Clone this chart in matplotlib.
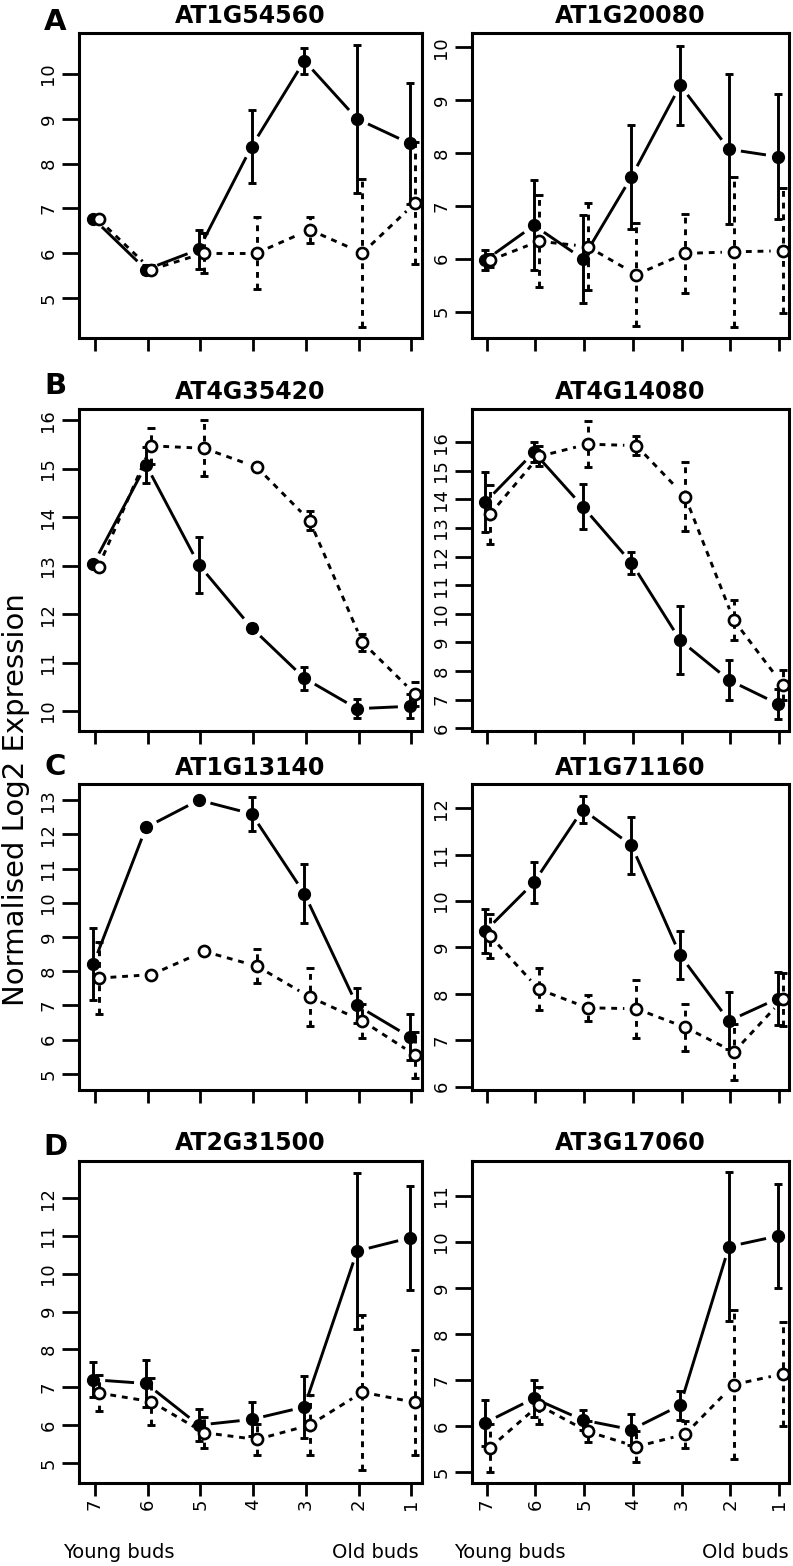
import numpy as np
import matplotlib
matplotlib.use('Agg')
import matplotlib.pyplot as plt

# bud stages, young -> old
stages = ['7', '6', '5', '4', '3', '2', '1']

# filled circles / solid lines, open circles / dotted lines (mean and +- error)
at1g54560_solid = [6.77, 5.63, 6.08, 8.38, 10.3, 9.0, 8.45]
at1g54560_solid_err = [0.05, 0.1, 0.44, 0.82, 0.29, 1.65, 1.35]
at1g54560_open = [6.75, 5.63, 6.0, 6.0, 6.52, 6.0, 7.12]
at1g54560_open_err = [0.05, 0.1, 0.44, 0.81, 0.29, 1.65, 1.37]

at1g20080_solid = [5.97, 6.63, 6.0, 7.55, 9.28, 8.07, 7.93]
at1g20080_solid_err = [0.19, 0.85, 0.83, 0.98, 0.75, 1.42, 1.18]
at1g20080_open = [5.97, 6.33, 6.23, 5.7, 6.1, 6.13, 6.15]
at1g20080_open_err = [0.12, 0.87, 0.83, 0.98, 0.75, 1.42, 1.18]

at4g35420_solid = [13.03, 15.08, 13.02, 11.72, 10.68, 10.05, 10.1]
at4g35420_solid_err = [0.03, 0.37, 0.58, 0.08, 0.24, 0.19, 0.25]
at4g35420_open = [12.98, 15.47, 15.42, 15.03, 13.93, 11.42, 10.35]
at4g35420_open_err = [0.03, 0.37, 0.58, 0.06, 0.19, 0.18, 0.25]

at4g14080_solid = [13.9, 15.65, 13.75, 11.78, 9.07, 7.68, 6.85]
at4g14080_solid_err = [1.05, 0.35, 0.8, 0.38, 1.19, 0.7, 0.53]
at4g14080_open = [13.48, 15.5, 15.93, 15.88, 14.1, 9.77, 7.52]
at4g14080_open_err = [1.03, 0.35, 0.8, 0.33, 1.2, 0.7, 0.53]

at1g13140_solid = [8.2, 12.2, 13.0, 12.6, 10.27, 7.0, 6.08]
at1g13140_solid_err = [1.05, 0.1, 0.03, 0.5, 0.85, 0.5, 0.68]
at1g13140_open = [7.8, 7.9, 8.58, 8.15, 7.25, 6.55, 5.55]
at1g13140_open_err = [1.05, 0.1, 0.05, 0.5, 0.85, 0.5, 0.68]

at1g71160_solid = [9.35, 10.4, 11.97, 11.2, 8.83, 7.42, 7.9]
at1g71160_solid_err = [0.47, 0.45, 0.3, 0.62, 0.52, 0.61, 0.57]
at1g71160_open = [9.25, 8.1, 7.7, 7.68, 7.28, 6.75, 7.88]
at1g71160_open_err = [0.47, 0.45, 0.28, 0.62, 0.51, 0.6, 0.57]

at2g31500_solid = [7.2, 7.1, 6.0, 6.15, 6.48, 10.6, 10.95]
at2g31500_solid_err = [0.46, 0.63, 0.42, 0.45, 0.82, 2.05, 1.38]
at2g31500_open = [6.85, 6.62, 5.8, 5.62, 6.0, 6.87, 6.6]
at2g31500_open_err = [0.47, 0.62, 0.41, 0.42, 0.8, 2.05, 1.38]

at3g17060_solid = [6.07, 6.6, 6.13, 5.92, 6.45, 9.9, 10.13]
at3g17060_solid_err = [0.5, 0.4, 0.22, 0.33, 0.32, 1.62, 1.13]
at3g17060_open = [5.53, 6.45, 5.88, 5.55, 5.82, 6.9, 7.13]
at3g17060_open_err = [0.52, 0.4, 0.22, 0.34, 0.29, 1.62, 1.13]

# gene, data, y range, y tick span
panels = [
    ('AT1G54560', at1g54560_solid, at1g54560_solid_err, at1g54560_open, at1g54560_open_err, (4.1, 10.92), (5, 10)),
    ('AT1G20080', at1g20080_solid, at1g20080_solid_err, at1g20080_open, at1g20080_open_err, (4.5, 10.27), (5, 10)),
    ('AT4G35420', at4g35420_solid, at4g35420_solid_err, at4g35420_open, at4g35420_open_err, (9.59, 16.23), (10, 16)),
    ('AT4G14080', at4g14080_solid, at4g14080_solid_err, at4g14080_open, at4g14080_open_err, (5.9, 17.16), (6, 16)),
    ('AT1G13140', at1g13140_solid, at1g13140_solid_err, at1g13140_open, at1g13140_open_err, (4.53, 13.47), (5, 13)),
    ('AT1G71160', at1g71160_solid, at1g71160_solid_err, at1g71160_open, at1g71160_open_err, (5.93, 12.52), (6, 12)),
    ('AT2G31500', at2g31500_solid, at2g31500_solid_err, at2g31500_open, at2g31500_open_err, (4.47, 12.98), (5, 12)),
    ('AT3G17060', at3g17060_solid, at3g17060_solid_err, at3g17060_open, at3g17060_open_err, (4.76, 11.76), (5, 11)),
]
letters = ['A', 'B', 'C', 'D']

W, H = 793, 1566
cols = [(79, 422), (472, 789)]
rows = [(33, 338), (409, 731), (784, 1090), (1161, 1483)]
title_base = [23, 399, 775, 1150]
letter_base = [30, 394, 775, 1155]

fig = plt.figure(figsize=(W / 100, H / 100), dpi=100)
DOT = (0, (2, 2))
GAP = 12  # pixels left open around each point, like R type="b"
LW = 2.1


def connect(ax, xs, ys, ls):
    # segments stop short of the points, computed in pixel space
    pts = ax.transData.transform(np.column_stack([xs, ys]))
    inv = ax.transData.inverted()
    for i in range(len(pts) - 1):
        p0, p1 = pts[i], pts[i + 1]
        d = p1 - p0
        L = np.hypot(*d)
        if L <= 2 * GAP:
            continue
        u = d / L
        a, b = inv.transform([p0 + u * GAP, p1 - u * GAP])
        ax.plot([a[0], b[0]], [a[1], b[1]], color='black', lw=LW, ls=ls,
                solid_capstyle='butt', dash_capstyle='butt')


x = np.arange(1, 8)
for k, (gene, sm, se, om, oe, ylim, yt) in enumerate(panels):
    r, c = divmod(k, 2)
    x0, x1 = cols[c]
    y0, y1 = rows[r]
    ax = fig.add_axes([x0 / W, 1 - y1 / H, (x1 - x0) / W, (y1 - y0) / H])
    ax.set_xlim(0.7, 7.2)
    ax.set_ylim(*ylim)

    xo = x + 0.07
    xf = x - 0.03

    eb = ax.errorbar(xo, om, yerr=oe, fmt='none', ecolor='black', elinewidth=LW,
                     capsize=3, capthick=LW)
    eb[2][0].set_linestyle(DOT)
    connect(ax, xo, om, DOT)
    ax.plot(xo, om, 'o', ms=8, mfc='white', mec='black', mew=1.9, ls='none', zorder=4)

    ax.errorbar(xf, sm, yerr=se, fmt='none', ecolor='black', elinewidth=LW,
                capsize=3, capthick=LW)
    connect(ax, xf, sm, '-')
    ax.plot(xf, sm, 'o', ms=8.5, color='black', ls='none', zorder=3)

    ax.set_xlim(0.7, 7.2)
    ax.set_ylim(*ylim)
    ax.set_xticks(x)
    ax.set_xticklabels(stages)
    ax.set_yticks(np.arange(yt[0], yt[1] + 1))
    for s in ax.spines.values():
        s.set_linewidth(2.2)
    ax.tick_params(axis='x', direction='out', length=9.5, width=2, pad=2,
                   labelsize=13, labelrotation=90, labelbottom=(r == 3))
    ax.tick_params(axis='y', direction='out', length=12.5, width=2, pad=3,
                   labelsize=13, labelrotation=90)
    for lab in ax.get_yticklabels():
        lab.set_va('center')

    fig.text((x0 + x1) / 2 / W, 1 - title_base[r] / H, gene, ha='center', va='baseline',
             fontsize=17, fontweight='bold')

for r in range(4):
    fig.text(55 / W, 1 - letter_base[r] / H, letters[r], ha='center', va='baseline',
             fontsize=21, fontweight='bold')

fig.text(16 / W, 1 - 800 / H, 'Normalised Log2 Expression', rotation=90,
         ha='center', va='center', fontsize=21)

fig.text(63 / W, 1 - 1558 / H, 'Young buds', ha='left', va='baseline', fontsize=14)
fig.text(419 / W, 1 - 1558 / H, 'Old buds', ha='right', va='baseline', fontsize=14)
fig.text(454 / W, 1 - 1558 / H, 'Young buds', ha='left', va='baseline', fontsize=14)
fig.text(789 / W, 1 - 1558 / H, 'Old buds', ha='right', va='baseline', fontsize=14)

fig.savefig('out.png', dpi=100)
